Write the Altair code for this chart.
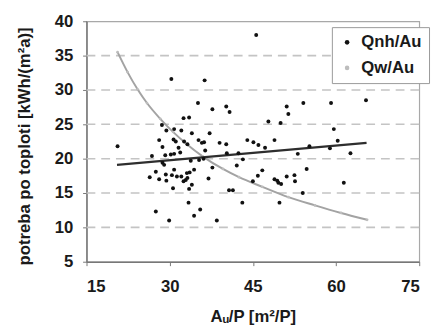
import altair as alt
import pandas as pd

# Qnh/Au scatter points (x = Au/P, y = kWh/(m2a))
qnh_x = [20.6, 30.3, 36.3, 35.1, 37.7, 32.5, 33.5, 28.6, 29.4, 30.8, 32.1, 28.1, 30.7, 31.1, 32.6,
         34.0, 35.2, 35.8, 36.2, 37.2, 28.7, 31.6, 33.2, 36.4, 31.9, 26.8, 29.2, 30.2, 30.8, 28.7,
         29.0, 33.8, 35.3, 36.1, 37.7, 26.4, 27.5, 28.1, 29.3, 29.4, 30.4, 30.8, 31.3, 32.1, 33.1,
         33.6, 34.4, 32.5, 32.9, 33.2, 30.6, 33.5, 34.0, 37.0, 33.4, 27.5, 35.5, 34.4, 29.9, 38.5,
         40.2, 40.8, 39.0, 40.2, 40.3, 40.7, 41.4, 51.1, 51.4, 54.1, 59.1, 59.6, 47.8, 50.0, 44.0,
         45.1, 46.0, 47.2, 48.9, 55.2, 58.9, 53.1, 42.4, 43.2, 42.1, 46.7, 45.9, 45.0, 48.9, 49.4,
         49.6, 50.1, 51.1, 52.5, 52.6, 54.7, 54.0, 43.1, 49.8, 45.6, 65.4, 60.3, 62.6, 61.4]
qnh_y = [21.8, 31.6, 31.4, 28.1, 27.2, 25.9, 26.0, 24.9, 24.1, 24.3, 24.1, 22.7, 22.8, 22.5, 22.5,
         23.7, 22.7, 22.3, 22.4, 23.7, 21.7, 21.6, 22.1, 21.2, 20.9, 20.4, 20.5, 20.6, 20.7, 19.4,
         19.1, 19.7, 19.8, 20.0, 18.7, 17.3, 18.1, 17.0, 17.7, 16.8, 17.6, 18.4, 17.4, 17.4, 17.9,
         18.0, 18.4, 16.7, 16.9, 17.2, 15.7, 15.6, 16.2, 17.1, 13.6, 12.3, 12.6, 11.7, 11.0, 11.0,
         27.6, 26.8, 22.3, 22.1, 20.8, 15.4, 15.4, 27.6, 26.5, 28.1, 28.1, 24.3, 25.4, 25.2, 22.7,
         22.4, 22.0, 21.6, 22.7, 21.8, 21.5, 20.7, 20.8, 19.9, 19.0, 18.3, 17.5, 16.7, 17.0, 16.8,
         16.5, 16.3, 17.4, 17.6, 16.7, 18.5, 15.0, 13.6, 13.6, 38.0, 28.5, 22.6, 20.8, 16.5]

# Qnh/Au trend line end points
trend_x = [20.5, 65.5]
trend_y = [19.1, 22.3]

# Qw/Au values (lie along a falling curve)
qw_x = [20.6, 22.4, 24.2, 25.9, 28.3, 30.6, 33.1, 36.0, 39.6, 42.5, 46.7, 51.4, 56.2, 60.9, 65.6]
qw_y = [35.5, 32.6, 30.1, 28.1, 25.8, 23.9, 22.1, 20.3, 18.5, 17.3, 15.9, 14.4, 13.2, 12.1, 11.1]

x_ticks = [15, 30, 45, 60, 75]
y_ticks = [5, 10, 15, 20, 25, 30, 35, 40]
grid_y = [10, 15, 20, 25, 30, 35]
series = ["Qnh/Au", "Qw/Au"]

FONT = "Liberation Sans"
TXT = "#1a1a1a"

pts = pd.DataFrame({"x": qnh_x, "y": qnh_y, "s": series[0]})
qw = pd.DataFrame({"x": qw_x, "y": qw_y, "s": series[1]})
trend = pd.DataFrame({"x": trend_x, "y": trend_y})
grid = pd.DataFrame({"y": grid_y})

xs = alt.Scale(domain=[15, 75], nice=False, zero=False)
ys = alt.Scale(domain=[5, 40], nice=False, zero=False)

xaxis = alt.Axis(values=x_ticks, title="Aᵤ/P [m²/P]", grid=False, labelOverlap=False,
                 labelPadding=13, titleY=60.5, titleBaseline="alphabetic",
                 titleAlign="center")
yaxis = alt.Axis(values=y_ticks, title="potreba po toploti [kWh/(m²a)]", grid=False,
                 labelOverlap=False, labelBound=False, labelPadding=10, titleX=-58, titleY=127,
                 titleAngle=270, titleBaseline="alphabetic", titleAlign="center")

color = alt.Color("s:N", scale=alt.Scale(domain=series, range=["#111111", "#bdbdbd"]),
                  legend=alt.Legend(title=None, orient="none", legendX=250, legendY=6,
                                    padding=7, strokeColor="#999999", fillColor="white",
                                    labelFont=FONT, labelFontSize=17, labelFontWeight="bold",
                                    labelColor=TXT, symbolSize=22, symbolType="circle",
                                    rowPadding=8, labelOffset=6, symbolStrokeWidth=0))

X = alt.X("x:Q", scale=xs, axis=xaxis)
Y = alt.Y("y:Q", scale=ys, axis=yaxis)

grid_rules = alt.Chart(grid).mark_rule(color="#c4c4c4", strokeWidth=1.6, strokeDash=[9, 6]).encode(y=Y)
qw_line = alt.Chart(qw).mark_line(color="#a3a3a3", strokeWidth=2, interpolate="monotone").encode(x=X, y=Y)
qw_pts = alt.Chart(qw).mark_circle(size=8, opacity=1).encode(x=X, y=Y, color=color)
trend_line = alt.Chart(trend).mark_line(color="#2e2e2e", strokeWidth=2.2).encode(x=X, y=Y)
qnh_pts = alt.Chart(pts).mark_circle(size=16, opacity=1).encode(x=X, y=Y, color=color)

chart = alt.layer(grid_rules, qw_line, qw_pts, trend_line, qnh_pts).properties(
    width=339, height=245,
    autosize=alt.AutoSizeParams(type="none"),
    padding={"left": 80, "top": 10.5, "right": 12, "bottom": 63},
).configure_view(stroke="#a8a8a8", strokeWidth=1.2).configure_axis(
    labelFont=FONT, labelFontSize=17, labelFontWeight="bold", labelColor=TXT,
    titleFont=FONT, titleFontSize=17, titleFontWeight="bold", titleColor=TXT,
    tickColor="#777777", tickSize=4, domainColor="#777777", domainWidth=1.5,
    labelOverlap=False,
)

chart.save("out.html", embed_options={"renderer": "svg", "actions": False})
